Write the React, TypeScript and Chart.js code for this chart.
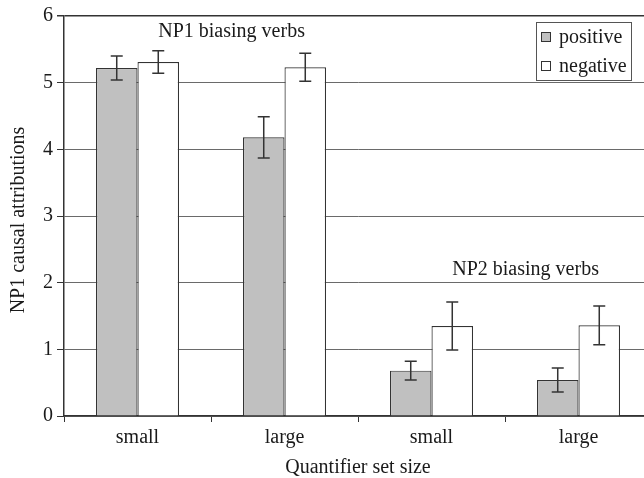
import React, { useEffect, useRef } from "react";
import { Chart, registerables } from "chart.js";

Chart.register(...registerables);

const categories = ["small", "large", "small", "large"];
const seriesNames = ["positive", "negative"];
const positiveMeans = [5.22, 4.18, 0.68, 0.54];
const negativeMeans = [5.31, 5.23, 1.35, 1.36];
const positiveErr = [0.18, 0.31, 0.14, 0.18];
const negativeErr = [0.17, 0.21, 0.36, 0.29];
const yTicks = [0, 1, 2, 3, 4, 5, 6];
const yTitle = "NP1 causal attributions";
const xTitle = "Quantifier set size";
const annotations = [
  { text: "NP1 biasing verbs", x: 0.64, y: 5.76 },
  { text: "NP2 biasing verbs", x: 2.64, y: 2.2 },
];

const FONT = "'Liberation Serif', 'Times New Roman', serif";
const GRAY = "#c0c0c0";
const LINE = "#333333";
const TEXT = "#1a1a1a";

export default function App() {
  const ref = useRef<HTMLCanvasElement | null>(null);
  useEffect(() => {
    const canvas = ref.current;
    if (!canvas) return;
    const errors = [positiveErr, negativeErr];

    const extras = {
      id: "extras",
      afterDatasetsDraw(chart: any) {
        const ctx = chart.ctx;
        const ys = chart.scales.y;
        const xs = chart.scales.x;
        const area = chart.chartArea;
        ctx.save();
        // error bars
        ctx.strokeStyle = LINE;
        ctx.lineWidth = 1.5;
        chart.data.datasets.forEach((ds: any, di: number) => {
          const meta = chart.getDatasetMeta(di);
          meta.data.forEach((bar: any, i: number) => {
            const v = ds.data[i];
            const e = errors[di][i];
            const x = bar.x;
            const y1 = ys.getPixelForValue(v + e);
            const y2 = ys.getPixelForValue(v - e);
            ctx.beginPath();
            ctx.moveTo(x, y1);
            ctx.lineTo(x, y2);
            ctx.moveTo(x - 6, y1);
            ctx.lineTo(x + 6, y1);
            ctx.moveTo(x - 6, y2);
            ctx.lineTo(x + 6, y2);
            ctx.stroke();
          });
        });
        // annotations
        ctx.fillStyle = TEXT;
        ctx.font = `20px ${FONT}`;
        ctx.textAlign = "center";
        ctx.textBaseline = "middle";
        annotations.forEach((a) => {
          ctx.fillText(a.text, xs.getPixelForValue(a.x), ys.getPixelForValue(a.y));
        });
        // y axis title
        ctx.save();
        ctx.translate(19, (area.top + area.bottom) / 2 + 4);
        ctx.rotate(-Math.PI / 2);
        ctx.fillText(yTitle, 0, 0);
        ctx.restore();
        // legend
        const lx = area.right - 116;
        const ly = area.top + 6;
        const lw = 95;
        const lh = 58;
        ctx.fillStyle = "#ffffff";
        ctx.fillRect(lx, ly, lw, lh);
        ctx.strokeStyle = "#555555";
        ctx.lineWidth = 1;
        ctx.strokeRect(lx + 0.5, ly + 0.5, lw, lh);
        ctx.textAlign = "left";
        chart.data.datasets.forEach((ds: any, di: number) => {
          const cy = ly + 15 + di * 29;
          ctx.fillStyle = ds.backgroundColor;
          ctx.fillRect(lx + 5.5, cy - 4.5, 9, 9);
          ctx.strokeStyle = LINE;
          ctx.strokeRect(lx + 5.5, cy - 4.5, 9, 9);
          ctx.fillStyle = TEXT;
          ctx.fillText(ds.label, lx + 23, cy + 1);
        });
        ctx.restore();
      },
    };

    const chart = new Chart(canvas, {
      type: "bar",
      data: {
        labels: categories,
        datasets: [
          {
            label: seriesNames[0],
            data: positiveMeans,
            backgroundColor: GRAY,
            borderColor: LINE,
            borderWidth: 1.2,
            categoryPercentage: 0.565,
            barPercentage: 1.0,
          },
          {
            label: seriesNames[1],
            data: negativeMeans,
            backgroundColor: "#ffffff",
            borderColor: LINE,
            borderWidth: 1.2,
            categoryPercentage: 0.565,
            barPercentage: 1.0,
          },
        ],
      },
      options: {
        responsive: false,
        animation: false,
        layout: { padding: { top: 12, right: 8, left: 0, bottom: 0 } },
        plugins: {
          legend: { display: false },
          tooltip: { enabled: false },
        },
        scales: {
          x: {
            grid: {
              drawOnChartArea: false,
              drawTicks: true,
              tickLength: 6,
              tickColor: LINE,
            },
            border: { color: LINE, width: 1.5 },
            ticks: { font: { family: FONT, size: 20 }, color: TEXT, padding: 4 },
            title: {
              display: true,
              text: xTitle,
              font: { family: FONT, size: 20 },
              color: TEXT,
              padding: { top: 0, bottom: -2 },
            },
            afterFit(scale: any) {
              scale.height = 62;
            },
          },
          y: {
            min: 0,
            max: 6,
            afterBuildTicks(scale: any) {
              scale.ticks = yTicks.map((v) => ({ value: v }));
            },
            grid: {
              color: (c: any) => (c.tick && c.tick.value === 6 ? "#333333" : "#6a6a6a"),
              lineWidth: (c: any) => (c.tick && c.tick.value === 6 ? 1.5 : 1),
              tickLength: 7,
              tickColor: LINE,
            },
            border: { color: LINE, width: 1.5 },
            ticks: { font: { family: FONT, size: 20 }, color: TEXT, padding: 4 },
            title: { display: false },
            afterFit(scale: any) {
              scale.width = 64;
            },
          },
        },
      },
      plugins: [extras],
    });
    return () => chart.destroy();
  }, []);

  return (
    <div
      style={{
        position: "fixed",
        left: 0,
        top: 0,
        width: 644,
        height: 478,
        overflow: "hidden",
        background: "#ffffff",
      }}
    >
      <canvas ref={ref} width={660} height={478} style={{ display: "block" }} />
    </div>
  );
}
